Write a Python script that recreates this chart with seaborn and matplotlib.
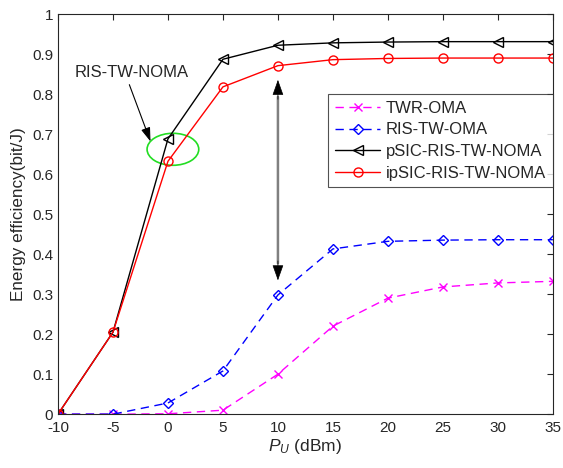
import numpy as np
import pandas as pd
import seaborn as sns
import matplotlib.pyplot as plt
from matplotlib.patches import Ellipse

# Valeurs
pu_dbm = [-10, -5, 0, 5, 10, 15, 20, 25, 30, 35]
twr_oma = [0, 0, 0.001, 0.01, 0.10, 0.22, 0.29, 0.318, 0.328, 0.332]
ris_tw_oma = [0, 0, 0.028, 0.108, 0.298, 0.413, 0.432, 0.435, 0.436, 0.436]
psic_noma = [0, 0.205, 0.688, 0.887, 0.922, 0.928, 0.930, 0.931, 0.931, 0.931]
ipsic_noma = [0, 0.205, 0.632, 0.818, 0.871, 0.886, 0.889, 0.890, 0.890, 0.890]

series_names = ['TWR-OMA', 'RIS-TW-OMA', 'pSIC-RIS-TW-NOMA', 'ipSIC-RIS-TW-NOMA']
colors = ['#ff00ff', '#0000ff', '#000000', '#ff0000']
markers = ['x', 'D', '<', 'o']
dashed = [True, True, False, False]

df = pd.DataFrame({
    'pu': pu_dbm * 4,
    'ee': twr_oma + ris_tw_oma + psic_noma + ipsic_noma,
    'scheme': sum([[n] * len(pu_dbm) for n in series_names], []),
})

sns.set_style('white')
plt.rcParams['font.family'] = ['Liberation Sans', 'DejaVu Sans']
plt.rcParams['axes.unicode_minus'] = False
plt.rcParams['mathtext.fontset'] = 'custom'
plt.rcParams['mathtext.it'] = 'Liberation Sans:italic'
plt.rcParams['mathtext.rm'] = 'Liberation Sans'

fig = plt.figure(figsize=(5.63, 4.68), dpi=100)
ax = fig.add_axes([0.103, 0.115, 0.879, 0.855])

for name, c, m, d in zip(series_names, colors, markers, dashed):
    sub = df[df['scheme'] == name]
    ms = {'D': 5, 'x': 5.5, '<': 6.5, 'o': 6.5}[m]
    sns.lineplot(data=sub, x='pu', y='ee', ax=ax, color=c, marker=m,
                 markerfacecolor='none', markeredgecolor=c, markersize=ms,
                 markeredgewidth=1, linewidth=1, label=name, dashes=False)
    if d:
        ax.lines[-1].set_dashes((6, 4))

ax.set_xlim(-10, 35)
ax.set_ylim(0, 1)
ax.set_xticks(np.arange(-10, 36, 5))
ax.set_yticks(np.arange(0, 1.01, 0.1))
ax.set_yticklabels(['0', '0.1', '0.2', '0.3', '0.4', '0.5', '0.6', '0.7', '0.8', '0.9', '1'])
ax.tick_params(direction='in', labelsize=11, length=4, top=True, right=True,
               labeltop=False, labelright=False, colors='#262626')
ax.tick_params(axis='x', pad=5)
for s in ax.spines.values():
    s.set_color('#262626')
    s.set_linewidth(0.8)

ax.set_xlabel('$P_U$ (dBm)', fontsize=12.5, labelpad=1)
ax.set_ylabel('Energy efficiency(bit/J)', fontsize=12.3, labelpad=4)

# annotations
ax.add_patch(Ellipse((0.45, 0.662), 4.7, 0.08, fill=False, edgecolor='#22dd22', linewidth=1.2))
ax.annotate('', xy=(-1.5, 0.675), xytext=(-3.6, 0.83),
            arrowprops=dict(arrowstyle='-|>,head_length=0.6,head_width=0.2',
                            color='black', lw=0.8, mutation_scale=14))
ax.text(-8.5, 0.855, 'RIS-TW-NOMA', fontsize=12, va='center', ha='left')
ax.annotate('', xy=(10, 0.80), xytext=(10, 0.37),
            arrowprops=dict(arrowstyle='-', color='#808080', lw=1.8))
ax.annotate('', xy=(10, 0.8425), xytext=(10, 0.78),
            arrowprops=dict(arrowstyle='-|>,head_length=0.7,head_width=0.25',
                            color='black', lw=0.5, mutation_scale=14))
ax.annotate('', xy=(10, 0.3275), xytext=(10, 0.39),
            arrowprops=dict(arrowstyle='-|>,head_length=0.7,head_width=0.25',
                            color='black', lw=0.5, mutation_scale=14))

leg = ax.legend(loc='upper right', bbox_to_anchor=(1.0, 0.8), fontsize=12,
                frameon=True, fancybox=False, edgecolor='#262626', borderpad=0.4,
                handlelength=2.7, handletextpad=0.35, labelspacing=0.4,
                borderaxespad=0)
leg.get_frame().set_linewidth(0.8)

fig.savefig('out.png', dpi=100)
